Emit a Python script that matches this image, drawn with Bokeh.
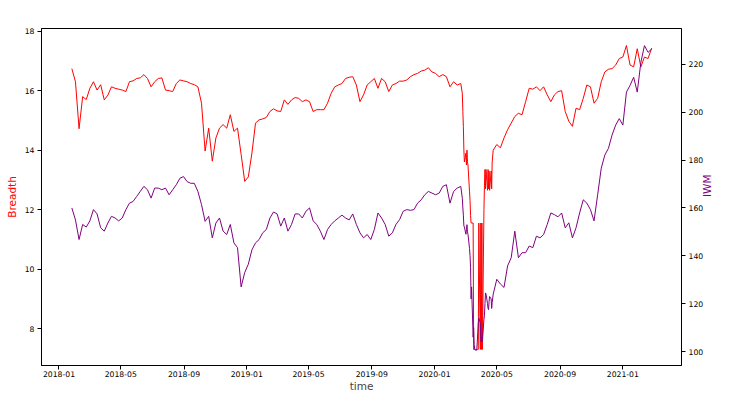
import math
import pandas as pd
from bokeh.plotting import figure
from bokeh.models import Range1d, LinearAxis, FixedTicker, DatetimeTickFormatter, ColumnDataSource
from bokeh.embed import file_html
from bokeh.resources import INLINE

# ---------------- data ----------------
# weekly readings, first week ending 2018-01-26
week_start = "2018-01-26"
breadth_weekly = [
    16.74, 16.3, 14.72, 15.8, 15.7, 16.08, 16.3, 16.02, 16.2, 15.69,
    15.85, 16.13, 16.08, 16.05, 16.02, 15.97, 16.3, 16.33, 16.41, 16.43,
    16.54, 16.41, 16.13, 16.3, 16.41, 16.43, 16.02, 16.0, 15.97, 16.24,
    16.36, 16.33, 16.3, 16.24, 16.2, 16.13, 15.58, 13.97, 14.74, 13.63,
    14.41, 14.74, 14.86, 14.74, 15.19, 14.63, 14.74, 13.86, 12.95, 13.1,
    13.9, 14.91, 15.02, 15.05, 15.1, 15.3, 15.39, 15.32, 15.3, 15.69,
    15.54, 15.69, 15.77, 15.74, 15.63, 15.69, 15.63, 15.3, 15.36, 15.36,
    15.36, 15.58, 15.91, 16.13, 16.19, 16.24, 16.41, 16.45, 16.47, 16.19,
    15.63, 15.86, 16.19, 16.3, 16.41, 16.08, 16.41, 16.3, 15.97, 16.19,
    16.24, 16.32, 16.32, 16.36, 16.47, 16.54, 16.58, 16.66, 16.69, 16.77,
    16.63, 16.58, 16.47, 16.54, 16.47, 16.13, 16.3, 16.19, 16.24, 13.6,
    13.5, 11.55, 7.3, 11.55, 7.3, 13.35, 12.65, 14.0, 14.19, 14.08,
    14.41, 14.69, 14.91, 15.13, 15.24, 15.19, 15.63, 16.08, 16.05, 16.13,
    16.0, 16.13, 15.86, 15.63, 15.86, 15.97, 16.0, 15.3, 14.97, 14.8,
    15.41, 15.36, 15.74, 16.19, 16.13, 15.58, 15.74, 16.3, 16.63, 16.72,
    16.74, 16.86, 17.08, 17.13, 17.52, 16.86, 16.8, 17.41, 16.8, 17.13,
    17.08, 17.43,
]
iwm_weekly = [
    160.0, 155.0, 146.8, 153.1, 152.0, 154.6, 159.3, 157.5, 151.7, 150.3,
    153.7, 156.5, 155.8, 154.6, 155.8, 159.3, 162.0, 162.7, 164.8, 166.9,
    169.0, 167.6, 164.1, 168.3, 168.3, 167.6, 168.3, 165.5, 167.6, 169.7,
    172.4, 173.1, 171.0, 170.3, 170.3, 166.9, 161.4, 154.4, 156.5, 147.5,
    153.7, 155.8, 150.3, 148.9, 153.1, 145.4, 143.4, 127.0, 133.0, 136.5,
    142.5, 145.4, 146.8, 149.6, 151.0, 155.8, 158.3, 157.5, 152.4, 155.8,
    150.3, 153.1, 157.5, 157.5, 155.8, 158.6, 160.0, 154.6, 153.1, 150.3,
    146.8, 151.0, 153.1, 154.6, 155.8, 157.0, 155.8, 155.0, 157.5, 153.1,
    149.6, 147.5, 148.9, 146.8, 151.0, 157.9, 155.8, 153.1, 148.2, 149.6,
    153.1, 155.1, 158.6, 159.3, 159.0, 159.3, 162.0, 163.4, 165.5, 166.9,
    166.2, 165.5, 166.2, 169.0, 169.7, 162.0, 166.9, 168.3, 169.0, 152.0,
    149.0, 127.0, 100.6, 110.0, 105.0, 124.0, 123.0, 124.0, 130.2, 128.2,
    126.8, 135.8, 139.2, 150.3, 139.2, 141.3, 141.3, 144.1, 143.4, 148.2,
    147.5, 148.9, 153.1, 157.9, 157.2, 156.3, 157.9, 151.7, 153.8, 147.5,
    151.7, 157.9, 163.4, 162.0, 159.3, 154.6, 165.5, 176.6, 182.1, 184.9,
    190.4, 194.6, 197.3, 194.6, 208.4, 211.2, 214.6, 208.4, 220.8, 227.8,
    225.0, 226.4,
]
# daily readings through the March 2020 crash (business days)
crash_start, crash_end = "2020-02-24", "2020-04-22"
breadth_crash = [
    15.9, 15.3, 14.8, 14.0, 13.6,
    13.9, 13.5, 14.0, 13.6, 13.5,
    12.6, 12.3, 11.8, 11.55, 11.55,
    11.55, 7.3, 7.3, 7.3, 7.3,
    7.3, 7.3, 7.3, 7.3, 11.55,
    7.3, 11.55, 7.3, 11.55, 7.3,
    12.0, 12.8, 13.35, 12.7, 13.35,
    12.65, 13.35, 12.7, 13.3, 12.65,
    13.3, 12.7, 13.6,
]
iwm_crash = [
    164.0, 160.0, 157.0, 152.5, 152.0,
    149.0, 151.0, 153.0, 150.0, 149.0,
    143.0, 140.0, 135.0, 122.0, 127.0,
    106.0, 110.0, 103.0, 101.0, 100.6,
    100.6, 104.0, 108.0, 112.0, 114.0,
    112.0, 104.5, 104.0, 106.0, 104.5,
    113.5, 115.0, 120.0, 124.5, 124.0,
    120.0, 118.0, 117.5, 121.0, 123.0,
    122.0, 118.0, 120.5,
]
x_tick_labels = ["2018-01", "2018-05", "2018-09", "2019-01", "2019-05",
                 "2019-09", "2020-01", "2020-05", "2020-09", "2021-01"]
breadth_ticks = [8, 10, 12, 14, 16, 18]
iwm_ticks = [100, 120, 140, 160, 180, 200, 220]

# ---------------- assemble ----------------
w = pd.DataFrame({"date": pd.date_range(week_start, periods=len(breadth_weekly), freq="7D"),
                  "breadth": breadth_weekly, "iwm": iwm_weekly})
c = pd.DataFrame({"date": pd.bdate_range(crash_start, crash_end),
                  "breadth": breadth_crash, "iwm": iwm_crash})
w = w[(w.date < c.date.min()) | (w.date > c.date.max())]
df = pd.concat([w, c]).sort_values("date").reset_index(drop=True)
src = ColumnDataSource(df)

FONT = "DejaVu Sans"
p = figure(frame_width=640, frame_height=337, x_axis_type="datetime",
           output_backend="svg", toolbar_location=None,
           x_range=Range1d(pd.Timestamp("2017-11-28"), pd.Timestamp("2021-04-25")),
           y_range=Range1d(6.76, 18.09),
           min_border_left=41, min_border_right=48, min_border_top=28, min_border_bottom=0)
p.extra_y_ranges = {"iwm": Range1d(94.18, 234.96)}

p.line(x="date", y="breadth", source=src, line_color="#ff0000", line_width=1)
p.line(x="date", y="iwm", source=src, line_color="#800080", line_width=1, y_range_name="iwm")

right = LinearAxis(y_range_name="iwm")
p.add_layout(right, "right")

p.xaxis.ticker = FixedTicker(ticks=[pd.Timestamp(s + "-01").timestamp() * 1000 for s in x_tick_labels])
fmt = "%Y-%m"
p.xaxis.formatter = DatetimeTickFormatter(milliseconds=fmt, seconds=fmt, minsec=fmt, minutes=fmt,
                                          hourmin=fmt, hours=fmt, days=fmt, months=fmt, years=fmt)
p.yaxis[0].ticker = FixedTicker(ticks=breadth_ticks)
right.ticker = FixedTicker(ticks=iwm_ticks)

p.xaxis.axis_label = "time"
p.yaxis[0].axis_label = "Breadth"
p.yaxis[0].axis_label_text_color = "#ff0000"
right.axis_label = "IWM"
right.axis_label_text_color = "#800080"
try:
    right.axis_label_orientation = math.pi / 2
except Exception:
    pass

for ax in [p.xaxis[0], p.yaxis[0], right]:
    ax.major_tick_out = 4
    ax.major_tick_in = 0
    ax.minor_tick_out = 0
    ax.minor_tick_in = 0
    ax.major_tick_line_color = "black"
    ax.axis_line_color = "black"
    ax.major_label_text_font = FONT
    ax.major_label_text_font_size = "7.7px"
    ax.major_label_text_color = "black"
    ax.major_label_standoff = 3
    ax.axis_label_text_font = FONT
    ax.axis_label_text_font_size = "10.5px"
    ax.axis_label_text_font_style = "normal"
    ax.axis_label_standoff = 4
p.xaxis.axis_label_standoff = 0
p.xaxis.major_label_standoff = 1
right.axis_label_standoff = 1

p.xgrid.visible = False
p.ygrid.visible = False
p.outline_line_color = "black"
p.outline_line_alpha = 1
p.background_fill_color = "white"
p.border_fill_color = "white"

open("out.html", "w").write(file_html(p, INLINE))
